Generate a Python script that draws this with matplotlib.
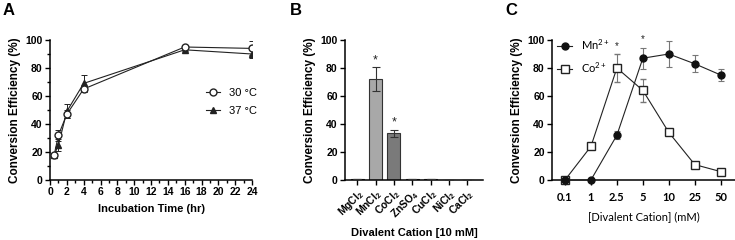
import matplotlib
matplotlib.use("Agg")
import matplotlib.pyplot as plt
import numpy as np
from matplotlib.ticker import MultipleLocator
from matplotlib.lines import Line2D

plt.rcParams['font.family'] = ['Liberation Sans', 'DejaVu Sans']
plt.rcParams['mathtext.default'] = 'regular'

# ---- Panel A data ----
time_hr = [0.5, 1, 2, 4, 16, 24]
eff_30 = [18, 32, 47, 65, 95, 94]
err_30 = [1.5, 4, 3, 2, 1, 5]
eff_37 = [18, 25, 49, 69, 93, 90]
err_37 = [1.5, 4, 5, 6, 1, 3]

# ---- Panel B data ----
cations = ['MgCl$_2$', 'MnCl$_2$', 'CoCl$_2$', 'ZnSO$_4$', 'CuCl$_2$', 'NiCl$_2$', 'CaCl$_2$']
cation_eff = [0.5, 72, 33.5, 0.5, 0.4, 0, 0]
cation_err = [0, 8.5, 2.5, 0, 0, 0, 0]
bar_colors = ['#a8a8a8', '#a8a8a8', '#7a7a7a', '#a8a8a8', '#a8a8a8', '#a8a8a8', '#a8a8a8']
sig_b = [False, True, True, False, False, False, False]

# ---- Panel C data ----
conc_labels = ['0.1', '1', '2.5', '5', '10', '25', '50']
mn_eff = [0, 0, 32, 87, 90, 83, 75]
mn_err = [0, 0, 3, 7.5, 9, 6, 4]
co_eff = [0, 24, 80, 64, 34, 11, 6]
co_err = [0, 1, 10, 8, 1, 1, 0.5]
sig_c = [False, False, True, True, False, False, False]

fig = plt.figure(figsize=(7.35, 2.4), dpi=100)

W, H = 735.0, 240.0
def axrect(l, r, t, b):
    return [l / W, 1 - b / H, (r - l) / W, (b - t) / H]

tfs = 7.5   # tick label size
yfs = 8.5   # y label size
xfs = 8     # x label size

def style(ax):
    for s in ['top', 'right']:
        ax.spines[s].set_visible(False)
    for s in ['left', 'bottom']:
        ax.spines[s].set_linewidth(1.1)
    ax.tick_params(axis='both', which='major', length=3.8, width=1.0, labelsize=tfs, pad=1.5)
    ax.tick_params(axis='both', which='minor', length=2.2, width=1.0)
    ax.set_ylim(0, 100)
    ax.set_yticks([0, 20, 40, 60, 80, 100])
    for lab in ax.get_yticklabels():
        lab.set_fontweight('bold')
    ax.set_ylabel('Conversion Efficiency (%)', fontsize=yfs, fontweight='bold', labelpad=3)

# ---- Panel A ----
axA = fig.add_axes(axrect(50, 252, 40, 180))
style(axA)
axA.errorbar(time_hr, eff_30, yerr=err_30, color='#222222', marker='o', mfc='white',
             mec='#222222', ms=5, lw=0.8, capsize=2.5, elinewidth=0.7, capthick=0.7, zorder=3)
axA.errorbar(time_hr, eff_37, yerr=err_37, color='#222222', marker='^', mfc='#222222',
             mec='#222222', ms=4.5, lw=0.8, capsize=2.5, elinewidth=0.7, capthick=0.7, zorder=2)
axA.set_xlim(0, 24)
axA.set_xticks(np.arange(0, 25, 2))
axA.xaxis.set_minor_locator(MultipleLocator(1))
axA.yaxis.set_minor_locator(MultipleLocator(10))
for lab in axA.get_xticklabels():
    lab.set_fontweight('bold')
axA.set_xlabel('Incubation Time (hr)', fontsize=xfs, fontweight='bold', labelpad=5)
hA = [Line2D([], [], color='#222222', lw=0.8, marker='o', mfc='white', mec='#222222', ms=5),
      Line2D([], [], color='#222222', lw=0.8, marker='^', mfc='#222222', mec='#222222', ms=4.5)]
axA.legend(hA, ['30 °C', '37 °C'], loc='upper left', bbox_to_anchor=(0.77, 0.66),
           frameon=False, fontsize=8, handlelength=1.3, handletextpad=0.8, labelspacing=0.75,
           borderaxespad=0, borderpad=0)
fig.text(3 / W, 1 - 3 / H, 'A', fontsize=12, fontweight='bold', va='top', ha='left')

# ---- Panel B ----
axB = fig.add_axes(axrect(345, 483, 40, 180))
style(axB)
xb = np.arange(len(cations))
axB.bar(xb, cation_eff, width=0.72, color=bar_colors, edgecolor='#333333', linewidth=0.8, zorder=2)
axB.errorbar(xb, cation_eff, yerr=cation_err, fmt='none', ecolor='#333333', elinewidth=0.8,
             capsize=3, capthick=0.8, zorder=3)
for i, s in enumerate(sig_b):
    if s:
        axB.text(xb[i], cation_eff[i] + cation_err[i] + 5, '*', ha='center', va='center',
                 fontsize=9, color='#222222')
axB.set_xlim(-0.66, 6.85)
axB.set_xticks(xb)
axB.set_xticklabels(cations, rotation=45, ha='right', va='top', rotation_mode='anchor',
                    fontsize=tfs, fontweight='bold')
axB.set_xlabel('Divalent Cation [10 mM]', fontsize=xfs, fontweight='bold', labelpad=5)
fig.text(290 / W, 1 - 3 / H, 'B', fontsize=12, fontweight='bold', va='top', ha='left')

# ---- Panel C ----
axC = fig.add_axes(axrect(552, 735, 40, 180))
style(axC)
xc = np.arange(len(conc_labels))
axC.errorbar(xc, co_eff, yerr=co_err, color='#222222', marker='s', mfc='white', mec='#222222',
             ms=5.5, mew=1.0, lw=0.8, capsize=2.5, ecolor='#777777', elinewidth=0.8,
             capthick=0.8, zorder=3, clip_on=False)
axC.errorbar(xc, mn_eff, yerr=mn_err, color='#222222', marker='o', mfc='#111111', mec='#111111',
             ms=5, lw=0.8, capsize=2.5, ecolor='#777777', elinewidth=0.8, capthick=0.8,
             zorder=4, clip_on=False)
for i, s in enumerate(sig_c):
    if s:
        top = max(mn_eff[i] + mn_err[i], co_eff[i] + co_err[i])
        axC.text(xc[i], top + 6, '*', ha='center', va='center', fontsize=7, color='#222222')
axC.set_xlim(-0.5, 6.55)
axC.set_xticks(xc)
axC.set_xticklabels(conc_labels, fontsize=8, fontweight='bold', family=['Lato', 'DejaVu Sans'])
axC.tick_params(axis='x', pad=5)
axC.set_xlabel('[Divalent Cation] (mM)', fontsize=8, family=['Lato', 'DejaVu Sans'], labelpad=6)
hC = [Line2D([], [], color='#222222', lw=0.8, marker='o', mfc='#111111', mec='#111111', ms=5),
      Line2D([], [], color='#222222', lw=0.8, marker='s', mfc='white', mec='#222222', ms=5.5)]
axC.legend(hC, ['Mn$^{2+}$', 'Co$^{2+}$'], loc='upper left', bbox_to_anchor=(0.03, 1.02),
           frameon=False, prop={'family': ['Lato', 'DejaVu Sans'], 'size': 8},
           handlelength=1.3, handletextpad=0.8, labelspacing=0.8, borderaxespad=0, borderpad=0)
fig.text(505 / W, 1 - 3 / H, 'C', fontsize=12, fontweight='bold', va='top', ha='left')

fig.savefig('out.png', dpi=100)
